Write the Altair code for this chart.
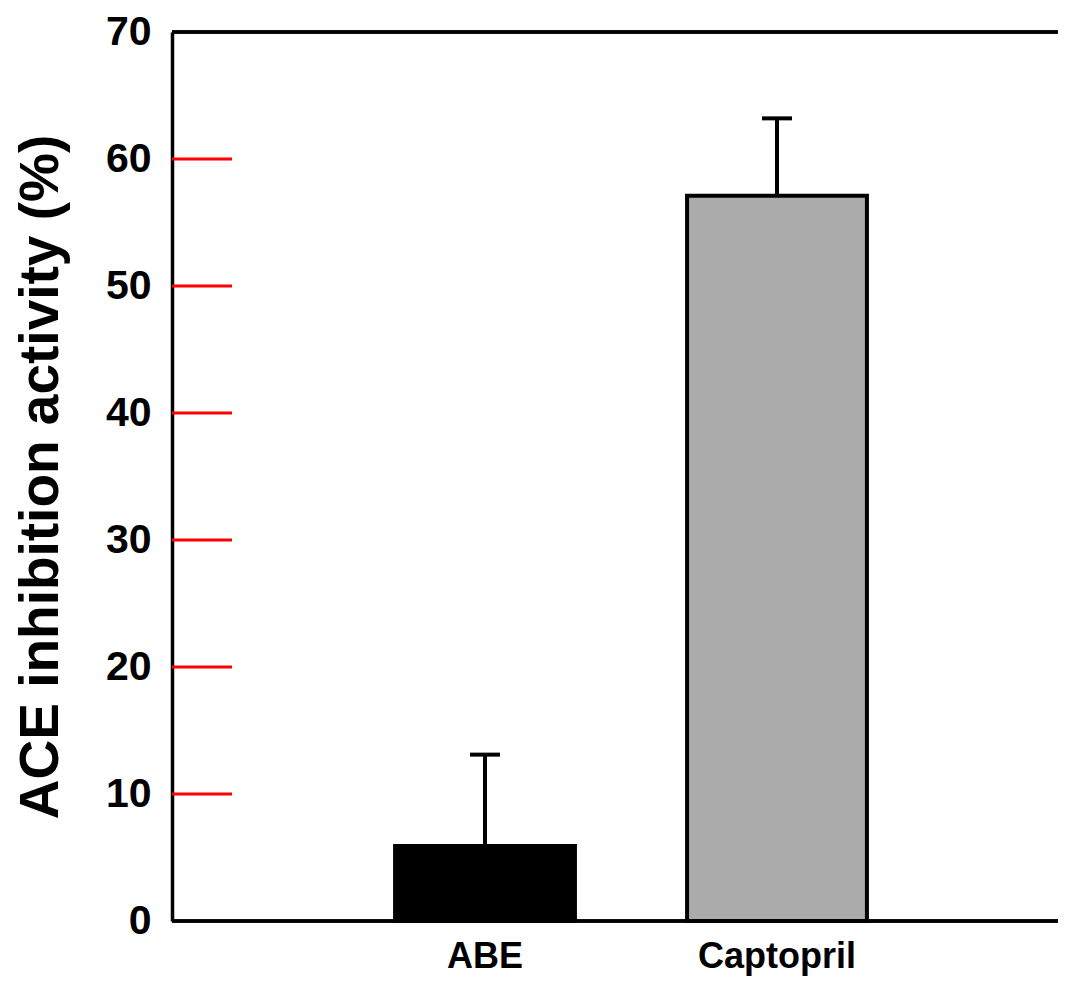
import altair as alt
import pandas as pd

categories = ["ABE", "Captopril"]
values = [5.9, 57.1]
errors = [7.2, 6.1]
fills = ["#000000", "#ababab"]
label_values = [0, 10, 20, 30, 40, 50, 60, 70]
tick_values = [10, 20, 30, 40, 50, 60]

df = pd.DataFrame({
    "cat": categories,
    "val": values,
    "upper": [v + e for v, e in zip(values, errors)],
    "fill": fills,
})
ticks_df = pd.DataFrame({"t": tick_values, "x0": [0] * len(tick_values), "x1": [60] * len(tick_values)})

FONT = "Liberation Sans"
W, H = 886, 889

xscale = alt.Scale(domain=categories, range=[0, 918], paddingInner=0.384, paddingOuter=0.764)
yscale = alt.Scale(domain=[0, 70], nice=False)
pxscale = alt.Scale(domain=[0, W], range=[0, W], nice=False, zero=False)

x_enc = alt.X("cat:N", scale=xscale, sort=categories,
              axis=alt.Axis(title=None, domain=False, ticks=False, labelAngle=0,
                            labelFont=FONT, labelFontSize=36, labelFontWeight="bold",
                            labelColor="black", labelPadding=18, labelBaseline="top"))
y_axis = alt.Axis(title="ACE inhibition activity (%)", values=label_values,
                  ticks=False, grid=False,
                  domainColor="black", domainWidth=3.5,
                  labelFont=FONT, labelFontSize=41, labelFontWeight="bold", labelColor="black",
                  labelPadding=21, titleFont=FONT, titleFontSize=55, titleFontWeight="bold",
                  titleColor="black", titlePadding=36)

bars = alt.Chart(df).mark_bar(stroke="black", strokeWidth=4).encode(
    x=x_enc,
    y=alt.Y("val:Q", scale=yscale, axis=y_axis),
    fill=alt.Fill("fill:N", scale=None),
)

err_rule = alt.Chart(df).mark_rule(color="black", strokeWidth=4).encode(
    x=alt.X("cat:N", scale=xscale, sort=categories, axis=None),
    y=alt.Y("val:Q", scale=yscale),
    y2="upper:Q",
)
err_cap = alt.Chart(df).mark_tick(color="black", thickness=4, size=30, orient="horizontal",
                                  opacity=1).encode(
    x=alt.X("cat:N", scale=xscale, sort=categories, axis=None),
    y=alt.Y("upper:Q", scale=yscale),
)

inner_ticks = alt.Chart(ticks_df).mark_rule(color="red", strokeWidth=3).encode(
    x=alt.X("x0:Q", scale=pxscale, axis=None),
    x2="x1:Q",
    y=alt.Y("t:Q", scale=yscale),
)

top_line = alt.Chart(df).mark_rule(color="black", strokeWidth=3.5).encode(
    y=alt.datum(70, scale=yscale)
)
bottom_line = alt.Chart(df).mark_rule(color="black", strokeWidth=3.5).encode(
    y=alt.datum(0, scale=yscale)
)

chart = alt.layer(bars, err_rule, err_cap, inner_ticks, top_line, bottom_line).resolve_scale(
    x="independent"
).properties(
    width=W, height=H,
    autosize=alt.AutoSizeParams(type="none"),
    padding={"left": 164, "top": 24, "right": 0, "bottom": 60},
    background="white",
).configure_view(stroke=None)

chart.save("out.html", embed_options={"renderer": "svg", "actions": False})
